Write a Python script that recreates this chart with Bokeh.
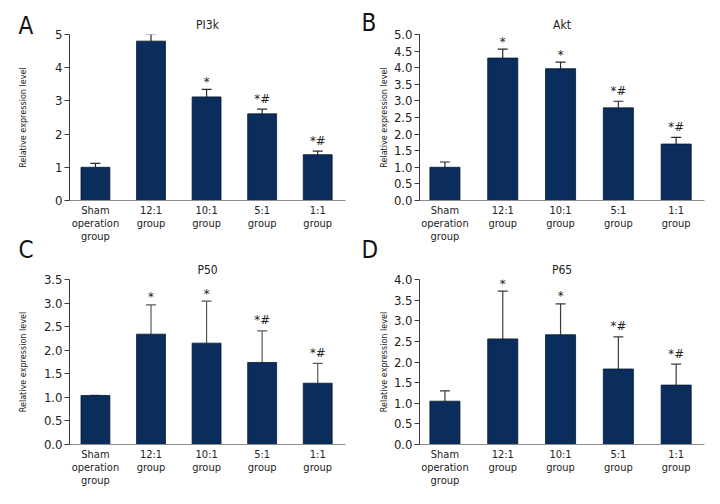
import math
from bokeh.plotting import figure
from bokeh.layouts import column, row
from bokeh.models import (ColumnDataSource, Range1d, FixedTicker, NumeralTickFormatter,
                          Whisker, TeeHead)
from bokeh.core.properties import value
from bokeh.embed import file_html
from bokeh.resources import INLINE

# ---- data ----
categories = ["Sham\noperation\ngroup", "12:1\ngroup", "10:1\ngroup", "5:1\ngroup", "1:1\ngroup"]
significance = ["", "*", "*", "*#", "*#"]

pi3k_mean = [1.00, 4.80, 3.12, 2.61, 1.38]
pi3k_sd = [0.12, 0.22, 0.23, 0.14, 0.11]

akt_mean = [1.00, 4.29, 3.97, 2.79, 1.70]
akt_sd = [0.16, 0.27, 0.20, 0.20, 0.20]

p50_mean = [1.04, 2.34, 2.15, 1.74, 1.30]
p50_sd = [0.00, 0.62, 0.89, 0.67, 0.42]

p65_mean = [1.05, 2.56, 2.66, 1.83, 1.44]
p65_sd = [0.25, 1.16, 0.75, 0.78, 0.51]

FONT = "Liberation Sans Narrow, DejaVu Sans Condensed, sans-serif"
BAR = "#0b2d5b"
TXT = "#222222"
YLABEL = "Relative expression level"


def strip(width, height, letter, lx, ly, labx, laby):
    """Narrow area left of a panel holding the panel letter and the y-axis title."""
    s = figure(width=width, height=height, output_backend="svg", toolbar_location=None,
               x_range=Range1d(0, width), y_range=Range1d(height, 0),
               x_axis_type=None, y_axis_type=None,
               min_border_left=0, min_border_right=0, min_border_top=0, min_border_bottom=0)
    s.grid.visible = False
    s.outline_line_color = None
    s.text(x=[lx], y=[ly], text=[letter], text_align="left", text_baseline="middle",
           text_font=value(FONT), text_font_size="24px", text_color="#111111")
    s.text(x=[labx], y=[laby], text=[YLABEL], angle=math.pi / 2,
           text_align="center", text_baseline="middle",
           text_font=value(FONT), text_font_size="9px", text_color=TXT)
    return s


def panel(title, mean, sd, ymax, ystep, fmt, width, height,
          left, right, top, bottom, xstart, xend, err_color):
    p = figure(width=width, height=height, output_backend="svg", toolbar_location=None,
               x_range=Range1d(xstart, xend), y_range=Range1d(0, ymax),
               min_border_left=left, min_border_right=right,
               min_border_top=top, min_border_bottom=bottom)
    p.outline_line_color = None
    p.grid.visible = False

    xs = list(range(len(categories)))
    upper = [m + s for m, s in zip(mean, sd)]
    src = ColumnDataSource(dict(x=xs, mean=mean, upper=upper, sig=significance,
                                yoff=[-8 if s == "*" else -11 for s in significance]))
    p.vbar(x="x", top="mean", bottom=0, width=0.52, source=src,
           fill_color=BAR, line_color="#06182f", line_width=0.8)
    w = Whisker(base="x", upper="upper", lower="mean", source=src,
                line_color=err_color, line_width=1.2,
                upper_head=TeeHead(size=10, line_color=err_color, line_width=1.2),
                lower_head=None)
    p.add_layout(w)
    p.text(x="x", y="upper", text="sig", source=src, y_offset="yoff",
           text_align="center", text_baseline="alphabetic",
           text_font=value(FONT), text_font_size="13px", text_color=TXT)

    # y axis
    yt = []
    v = 0.0
    while v <= ymax + 1e-9:
        yt.append(round(v, 2))
        v += ystep
    ya = p.yaxis[0]
    ya.ticker = FixedTicker(ticks=yt)
    ya.formatter = NumeralTickFormatter(format=fmt)
    ya.major_label_text_font = FONT
    ya.major_label_text_font_size = "13px"
    ya.major_label_text_color = TXT
    ya.major_label_standoff = 2
    ya.major_tick_out = 5
    ya.major_tick_in = 0
    ya.minor_tick_out = 0
    ya.minor_tick_in = 0
    ya.axis_line_color = "#3a3a3a"
    ya.major_tick_line_color = "#3a3a3a"

    # x axis
    xa = p.xaxis[0]
    xa.ticker = FixedTicker(ticks=xs)
    xa.major_label_overrides = {i: c for i, c in enumerate(categories)}
    xa.major_label_text_font = FONT
    xa.major_label_text_font_size = "11px"
    xa.major_label_text_line_height = 1.0
    xa.major_label_text_color = TXT
    xa.major_label_standoff = 3
    xa.major_tick_out = 0
    xa.major_tick_in = 0
    xa.minor_tick_out = 0
    xa.minor_tick_in = 0
    xa.major_tick_line_color = None
    xa.axis_line_color = "#8c8c8c"

    # title
    p.title.text = title
    p.title.align = "center"
    p.title.text_font = FONT
    p.title.text_font_size = "12px"
    p.title.text_font_style = "normal"
    p.title.text_color = TXT
    p.title.standoff = 6
    return p


# strips (letter + y title) and panels are stacked in independent columns
sa = strip(40, 232, "A", 18, 25.5, 22, 117)
sc = strip(40, 272, "C", 18, 17, 22, 129.5)
pa = panel("PI3k", pi3k_mean, pi3k_sd, 5, 1, "0", 320, 246, 18, 15, 34, 46,
           -0.467, 4.50, "#2a2a2a")
pc = panel("P50", p50_mean, p50_sd, 3.5, 0.5, "0.0", 320, 258, 18, 15, 33, 60,
           -0.467, 4.50, "#5a5a5a")
sb = strip(30, 232, "B", 1, 22.5, 23, 117)
sd_ = strip(30, 272, "D", 1, 17, 23, 129.5)
pb = panel("Akt", akt_mean, akt_sd, 5, 0.5, "0.0", 330, 246, 28, 16, 34, 46,
           -0.44, 4.49, "#2a2a2a")
pd = panel("P65", p65_mean, p65_sd, 4, 0.5, "0.0", 330, 258, 28, 16, 33, 60,
           -0.44, 4.49, "#3a3a3a")

layout = row(column(sa, sc), column(pa, pc), column(sb, sd_), column(pb, pd))
open("out.html", "w").write(file_html(layout, INLINE))
